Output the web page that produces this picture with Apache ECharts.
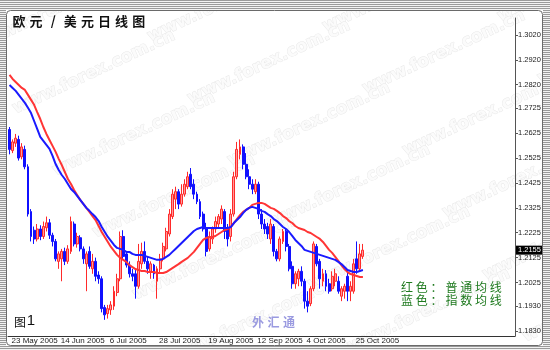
<!DOCTYPE html>
<html lang="zh">
<head>
<meta charset="UTF-8">
<title>欧元/美元日线图</title>
<script src="https://cdn.jsdelivr.net/npm/echarts@6/dist/echarts.min.js"></script>
<style>
html,body{margin:0;padding:0;background:#fff;}
#chart{width:550px;height:350px;}
</style>
</head>
<body>
<div id="chart"></div>
<script>
// 日线数据
var opens = [1.2640,1.2555,1.2585,1.2600,1.2530,1.2560,1.2490,1.2310,1.2235,1.2200,
1.2240,1.2210,1.2245,1.2265,1.2215,1.2190,1.2110,1.2120,1.2150,1.2110,
1.2150,1.2260,1.2180,1.2205,1.2160,1.2100,1.2150,1.2080,1.2110,1.2055,
1.2040,1.1925,1.1900,1.1915,1.1930,1.1985,1.2040,1.2210,1.2140,1.2095,
1.2060,1.2060,1.2010,1.2100,1.2150,1.2110,1.2070,1.2095,1.2030,1.2080,
1.2120,1.2160,1.2220,1.2290,1.2360,1.2390,1.2340,1.2380,1.2410,1.2460,
1.2420,1.2380,1.2350,1.2300,1.2240,1.2160,1.2200,1.2240,1.2260,1.2280,
1.2310,1.2240,1.2210,1.2300,1.2450,1.2540,1.2570,1.2500,1.2450,1.2420,
1.2390,1.2420,1.2300,1.2260,1.2250,1.2200,1.2250,1.2150,1.2120,1.2190,
1.2230,1.2170,1.2090,1.2020,1.2040,1.2070,1.2030,1.1950,1.1940,1.2000,
1.2170,1.2110,1.2030,1.2060,1.2020,1.2000,1.2030,1.2030,1.1970,1.1990,
1.2050,1.1990,1.1990,1.2120,1.2080,1.2130];
var closes = [1.2560,1.2590,1.2605,1.2525,1.2570,1.2490,1.2300,1.2210,1.2200,1.2240,
1.2210,1.2250,1.2265,1.2215,1.2190,1.2120,1.2140,1.2150,1.2110,1.2160,
1.2270,1.2180,1.2210,1.2160,1.2120,1.2140,1.2090,1.2110,1.2050,1.2040,
1.1920,1.1895,1.1920,1.1935,1.1990,1.2040,1.2210,1.2130,1.2095,1.2060,
1.2050,1.2010,1.2110,1.2150,1.2110,1.2080,1.2100,1.2060,1.2080,1.2120,
1.2170,1.2230,1.2300,1.2380,1.2390,1.2340,1.2380,1.2420,1.2450,1.2410,
1.2380,1.2350,1.2290,1.2240,1.2150,1.2210,1.2240,1.2270,1.2290,1.2320,
1.2230,1.2200,1.2300,1.2450,1.2560,1.2570,1.2500,1.2450,1.2420,1.2400,
1.2420,1.2300,1.2260,1.2240,1.2220,1.2260,1.2150,1.2120,1.2200,1.2230,
1.2170,1.2080,1.2020,1.2060,1.2070,1.2030,1.1950,1.1930,1.2000,1.2180,
1.2100,1.2040,1.2060,1.2010,1.1990,1.2050,1.2060,1.1990,1.2000,1.2010,
1.1990,1.2010,1.2100,1.2080,1.2140,1.2155];
var highs = [1.2650,1.2600,1.2622,1.2615,1.2585,1.2575,1.2500,1.2320,1.2250,1.2260,
1.2255,1.2270,1.2290,1.2280,1.2225,1.2200,1.2150,1.2160,1.2165,1.2175,
1.2290,1.2270,1.2225,1.2215,1.2170,1.2150,1.2170,1.2140,1.2125,1.2070,
1.2050,1.1935,1.1935,1.1950,1.2010,1.2060,1.2230,1.2235,1.2150,1.2110,
1.2080,1.2075,1.2180,1.2185,1.2190,1.2130,1.2110,1.2100,1.2090,1.2140,
1.2185,1.2245,1.2320,1.2400,1.2410,1.2400,1.2420,1.2440,1.2470,1.2485,
1.2440,1.2390,1.2360,1.2310,1.2265,1.2230,1.2250,1.2290,1.2300,1.2335,
1.2320,1.2260,1.2320,1.2470,1.2590,1.2600,1.2580,1.2545,1.2480,1.2440,
1.2440,1.2430,1.2320,1.2280,1.2265,1.2280,1.2260,1.2160,1.2210,1.2240,
1.2240,1.2180,1.2110,1.2070,1.2080,1.2090,1.2040,1.1990,1.2010,1.2190,
1.2180,1.2120,1.2080,1.2075,1.2040,1.2070,1.2080,1.2050,1.2010,1.2020,
1.2070,1.2030,1.2120,1.2190,1.2180,1.2180];
var lows = [1.2540,1.2545,1.2570,1.2515,1.2520,1.2480,1.2290,1.2190,1.2180,1.2190,
1.2195,1.2200,1.2230,1.2200,1.2170,1.2110,1.2080,1.2030,1.2095,1.2100,
1.2140,1.2170,1.2165,1.2150,1.2100,1.1990,1.2080,1.2060,1.2030,1.2020,
1.1905,1.1875,1.1880,1.1895,1.1915,1.1970,1.2030,1.2120,1.2085,1.2045,
1.2030,1.1960,1.2000,1.2080,1.2100,1.2060,1.2040,1.2040,1.1960,1.2060,
1.2110,1.2150,1.2210,1.2280,1.2320,1.2320,1.2330,1.2370,1.2400,1.2400,
1.2360,1.2340,1.2280,1.2230,1.2130,1.2150,1.2180,1.2225,1.2240,1.2260,
1.2200,1.2170,1.2190,1.2290,1.2440,1.2520,1.2480,1.2440,1.2400,1.2380,
1.2380,1.2280,1.2240,1.2220,1.2200,1.2180,1.2130,1.2110,1.2110,1.2180,
1.2150,1.2070,1.2000,1.2000,1.2010,1.2010,1.1920,1.1905,1.1930,1.1990,
1.2090,1.2000,1.2010,1.1990,1.1980,1.1990,1.2010,1.1980,1.1950,1.1960,
1.1950,1.1950,1.1980,1.2060,1.2070,1.2120];
// 红色：普通均线（SMA）
var smaLine = [1.2859,1.2843,1.2831,1.2819,1.2807,1.2799,1.2779,1.2759,1.2739,1.2710,
1.2682,1.2650,1.2622,1.2598,1.2574,1.2550,1.2522,1.2497,1.2469,1.2441,
1.2421,1.2397,1.2377,1.2357,1.2341,1.2325,1.2309,1.2292,1.2276,1.2252,
1.2228,1.2208,1.2188,1.2168,1.2152,1.2136,1.2124,1.2116,1.2108,1.2095,
1.2087,1.2079,1.2075,1.2071,1.2071,1.2067,1.2067,1.2067,1.2063,1.2063,
1.2063,1.2067,1.2075,1.2083,1.2091,1.2099,1.2108,1.2116,1.2124,1.2136,
1.2148,1.2164,1.2180,1.2196,1.2204,1.2208,1.2208,1.2212,1.2220,1.2228,
1.2236,1.2240,1.2248,1.2264,1.2280,1.2296,1.2309,1.2317,1.2325,1.2337,
1.2341,1.2345,1.2345,1.2341,1.2333,1.2325,1.2321,1.2313,1.2304,1.2292,
1.2284,1.2272,1.2264,1.2252,1.2244,1.2240,1.2236,1.2228,1.2224,1.2216,
1.2208,1.2200,1.2188,1.2172,1.2156,1.2144,1.2128,1.2112,1.2095,1.2079,
1.2067,1.2059,1.2055,1.2051,1.2047,1.2047];
// 蓝色：指数均线（EMA）
var emaLine = [1.2819,1.2807,1.2795,1.2779,1.2763,1.2747,1.2727,1.2706,1.2674,1.2642,
1.2610,1.2594,1.2578,1.2562,1.2534,1.2501,1.2477,1.2457,1.2441,1.2421,
1.2401,1.2389,1.2373,1.2357,1.2341,1.2325,1.2313,1.2300,1.2288,1.2272,
1.2248,1.2228,1.2208,1.2192,1.2176,1.2164,1.2160,1.2156,1.2148,1.2148,
1.2140,1.2136,1.2136,1.2136,1.2132,1.2128,1.2124,1.2120,1.2116,1.2116,
1.2120,1.2128,1.2136,1.2148,1.2160,1.2172,1.2184,1.2196,1.2208,1.2220,
1.2232,1.2240,1.2244,1.2248,1.2244,1.2244,1.2244,1.2244,1.2244,1.2244,
1.2244,1.2244,1.2248,1.2264,1.2276,1.2288,1.2304,1.2317,1.2325,1.2329,
1.2325,1.2321,1.2313,1.2309,1.2300,1.2292,1.2280,1.2272,1.2260,1.2248,
1.2240,1.2228,1.2212,1.2196,1.2184,1.2172,1.2156,1.2152,1.2148,1.2144,
1.2140,1.2136,1.2132,1.2128,1.2124,1.2120,1.2116,1.2108,1.2099,1.2087,
1.2075,1.2071,1.2067,1.2067,1.2071,1.2075];

// x轴日期标签，每16根K线一个
var tickLabels = ['23 May 2005','14 Jun 2005','6 Jul 2005','28 Jul 2005',
                  '19 Aug 2005','12 Sep 2005','4 Oct 2005','25 Oct 2005'];
var labelEvery = 16;
var slotCount = 165;   // 右侧留白
// y轴刻度
var priceTicks = [1.3020,1.2920,1.2820,1.2725,1.2625,1.2525,1.2425,
                  1.2325,1.2225,1.2125,1.2025,1.1930,1.1830];
var lastPrice = 1.2155;

var cats = [];
for (var i = 0; i < slotCount; i++) cats.push('b' + i);
var kData = [];
for (var i = 0; i < opens.length; i++) kData.push([opens[i], closes[i], lows[i], highs[i]]);

function showTick(idx) {
	return idx % labelEvery === 0 && idx / labelEvery < tickLabels.length;
}

// 边框条纹
var stripe = document.createElement('canvas');
stripe.width = 4; stripe.height = 2;
var sctx = stripe.getContext('2d');
sctx.fillStyle = '#f2f2f2'; sctx.fillRect(0, 0, 4, 2);
sctx.fillStyle = '#9a9a9a'; sctx.fillRect(0, 0, 4, 1);
var stripeFill = {image: stripe, repeat: 'repeat'};

// 逐字排列（x0 为第一个字的中心）
function spaced(str, x0, y, step, style) {
	return str.split('').map(function (ch, k) {
		return {
			type: 'text', z: 10, silent: true,
			style: Object.assign({text: ch, x: x0 + k * step, y: y,
				textAlign: 'center', textVerticalAlign: 'middle'}, style)
		};
	});
}

// 水印
function watermark() {
	var out = [];
	for (var r = -1; r < 6; r++) {
		for (var c = 0; c < 4; c++) {
			out.push({
				type: 'text', z: -1, silent: true,
				x: -30 + c * 175 + r * 40, y: 40 + r * 62 - c * 10,
				rotation: 25 * Math.PI / 180,
				style: {text: 'www.forex.com.cn', font: 'bold 17px "DejaVu Sans", sans-serif',
					fill: '#fbfbfb', stroke: '#e9e9e9', lineWidth: 1}
			});
		}
	}
	return out;
}

var cjk = '"Noto Sans CJK SC", sans-serif';
var graphics = watermark().concat([
	{type: 'rect', shape: {x: 0, y: 0, width: 550, height: 10}, style: {fill: stripeFill}, silent: true, z: 20},
	{type: 'rect', shape: {x: 0, y: 0, width: 6, height: 350}, style: {fill: stripeFill}, silent: true, z: 20},
	{type: 'rect', shape: {x: 543, y: 0, width: 7, height: 350}, style: {fill: stripeFill}, silent: true, z: 20},
	{type: 'rect', shape: {x: 0, y: 346, width: 550, height: 4}, style: {fill: stripeFill}, silent: true, z: 20},
	{type: 'rect', shape: {x: 6.5, y: 10.5, width: 536, height: 335, r: 4}, z: 20,
	 style: {fill: null, stroke: '#6a6a6a', lineWidth: 1}, silent: true},
	{type: 'text', z: 10, silent: true,
	 style: {text: '图', x: 20, y: 322, textAlign: 'center', textVerticalAlign: 'middle',
		font: '12px ' + cjk, fill: '#111'}},
	{type: 'text', z: 10, silent: true,
	 style: {text: '1', x: 31, y: 321, textAlign: 'center', textVerticalAlign: 'middle',
		font: '15px "Liberation Sans", Arial', fill: '#111'}}
]);
graphics = graphics
	.concat(spaced('欧元/美元日线图', 19, 21, 17.1, {font: 'bold 13px ' + cjk, fill: '#111'}))
	.concat(spaced('外汇通', 258, 322, 15.5, {font: 'bold 12px ' + cjk, fill: '#9a9ae0'}))
	.concat(spaced('红色：普通均线', 407, 287, 14.8, {font: '12px ' + cjk, fill: '#1f7a1f'}))
	.concat(spaced('蓝色：指数均线', 407, 300, 14.8, {font: '12px ' + cjk, fill: '#1f7a1f'}));

var myChart = echarts.init(document.getElementById('chart'));
var option = {
	animation: false,
	backgroundColor: '#fff',
	grid: {left: 8, right: 35, top: 18, bottom: 14},
	xAxis: {
		type: 'category',
		data: cats,
		boundaryGap: true,
		axisLine: {lineStyle: {color: '#333', width: 1}},
		axisTick: {interval: showTick, alignWithLabel: true, length: 4, lineStyle: {color: '#333'}},
		axisLabel: {
			interval: showTick,
			align: 'left',
			margin: 1,
			padding: [0, 0, 0, 2],
			color: '#222',
			fontFamily: '"Liberation Sans", Arial',
			fontSize: 8,
			formatter: function (v, idx) { return tickLabels[idx / labelEvery]; }
		},
		splitLine: {show: false}
	},
	yAxis: {
		type: 'value',
		position: 'right',
		min: 1.1810,
		max: 1.3088,
		axisLine: {show: true, lineStyle: {color: '#555'}},
		axisTick: {show: true, customValues: priceTicks, length: 3, lineStyle: {color: '#555'}},
		axisLabel: {
			customValues: priceTicks,
			margin: 3,
			color: '#222',
			fontFamily: '"Liberation Sans", Arial',
			fontSize: 7.5,
			formatter: function (v) { return v.toFixed(4); }
		},
		splitLine: {show: false}
	},
	graphic: graphics,
	series: [
		{
			type: 'candlestick',
			data: kData,
			barWidth: 2.4,
			itemStyle: {
				color: '#ff9a9a', borderColor: '#ff2a2a',
				color0: '#1010ff', borderColor0: '#1010ff',
				borderWidth: 1
			},
			markLine: {
				silent: true,
				symbol: 'none',
				precision: 4,
				lineStyle: {color: 'rgba(0,0,0,0)', type: 'solid'},
				label: {
					show: true,
					position: 'end', distance: 1,
					backgroundColor: '#000', color: '#fff',
					padding: [1, 2, 0, 2],
					fontFamily: '"Liberation Sans", Arial', fontSize: 7.5,
					formatter: function (p) { return Number(p.value).toFixed(4); }
				},
				data: [{yAxis: lastPrice}]
			}
		},
		{
			type: 'line', data: smaLine, showSymbol: false, symbol: 'none',
			lineStyle: {color: '#ff3535', width: 2}, z: 3
		},
		{
			type: 'line', data: emaLine, showSymbol: false, symbol: 'none',
			lineStyle: {color: '#1a1aff', width: 2}, z: 4
		}
	]
};
myChart.setOption(option);
</script>
</body>
</html>
